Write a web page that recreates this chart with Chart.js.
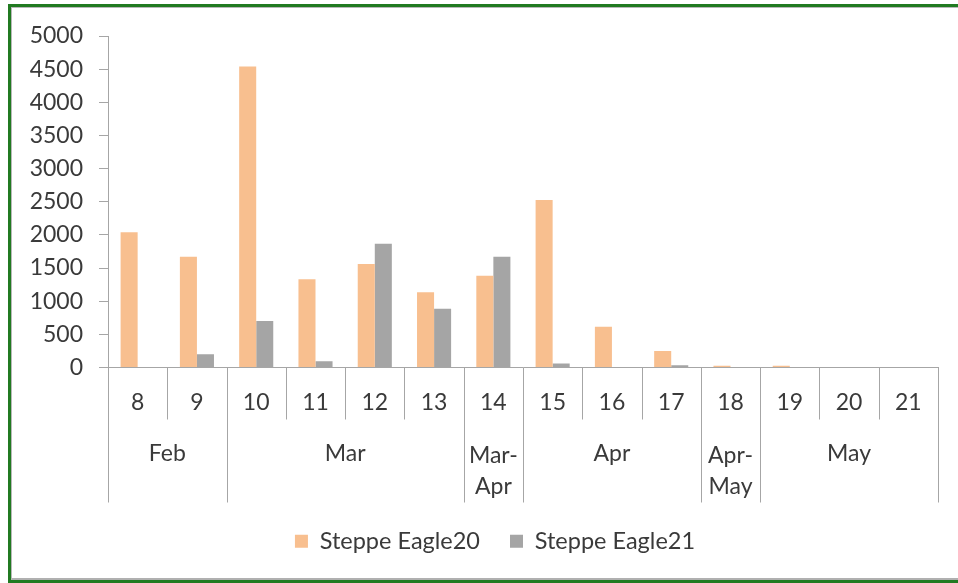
<!DOCTYPE html>
<html>
<head>
<meta charset="utf-8">
<script src="https://cdn.jsdelivr.net/npm/chart.js@4/dist/chart.umd.min.js"></script>
<style>
  body { margin: 0; background: #fff; overflow: hidden; }
  #frame {
    position: absolute; left: 8px; top: 4px; width: 970px; height: 579px;
    border: 3px solid #217a21; border-right: none; box-sizing: border-box;
    box-shadow: inset 1px 1px 0 #b8b8b8, inset 0 -2px 0 #b0b0b0;
  }
  #wrap { position: absolute; left: 0; top: 0; width: 958px; height: 583px; }
</style>
</head>
<body>
<div id="frame"></div>
<div id="wrap"><canvas id="chart" width="958" height="583"></canvas></div>
<script>
// Week numbers and the month(s) each group of weeks falls in
const weekLabels = ['8', '9', '10', '11', '12', '13', '14', '15', '16', '17', '18', '19', '20', '21'];
const monthLabels = [['Feb'], ['Mar'], ['Mar-', 'Apr'], ['Apr'], ['Apr-', 'May'], ['May']];
const monthSpans = [2, 4, 1, 3, 1, 3];

// Counts per week
const eagle20 = [2040, 1670, 4540, 1330, 1560, 1135, 1385, 2525, 615, 250, 25, 25, 0, 0];
const eagle21 = [0, 200, 700, 95, 1865, 885, 1670, 60, 0, 35, 0, 0, 0, 0];

const axisColor = '#a6a6a6';
const textColor = '#3a3a3a';
const fontFamily = 'Lato, Carlito, sans-serif';

// Draws the week separators and the month row under the x axis
const monthAxisPlugin = {
    id: 'monthAxis',
    afterLayout(chart) {
        // legend sits a bit right of centre in the original
        chart.legend.left += 21;
        chart.legend.right += 21;
    },
    afterDraw(chart) {
        const ctx = chart.ctx;
        const x = chart.scales.x;
        const area = chart.chartArea;
        const half = (x.getPixelForValue(1) - x.getPixelForValue(0)) / 2;
        const n = weekLabels.length;

        // which boundaries are month boundaries
        const monthEdges = new Set([0]);
        let acc = 0;
        monthSpans.forEach(s => { acc += s; monthEdges.add(acc); });

        ctx.save();
        ctx.strokeStyle = axisColor;
        ctx.lineWidth = 1;
        for (let i = 0; i <= n; i++) {
            const px = i < n ? x.getPixelForValue(i) - half : x.getPixelForValue(n - 1) + half;
            const bottom = area.bottom + (monthEdges.has(i) ? 135 : 52);
            const xx = Math.round(px) + 0.5;
            ctx.beginPath();
            ctx.moveTo(xx, area.bottom);
            ctx.lineTo(xx, bottom);
            ctx.stroke();
        }

        ctx.fillStyle = textColor;
        ctx.font = '23px ' + fontFamily;
        ctx.textAlign = 'center';
        ctx.textBaseline = 'middle';
        let start = 0;
        monthLabels.forEach((lines, k) => {
            const end = start + monthSpans[k] - 1;
            const cx = (x.getPixelForValue(start) + x.getPixelForValue(end)) / 2;
            if (lines.length === 1) {
                ctx.fillText(lines[0], cx, area.bottom + 86);
            } else {
                lines.forEach((t, j) => ctx.fillText(t, cx, area.bottom + 88 + j * 31));
            }
            start = end + 1;
        });
        ctx.restore();
    }
};

new Chart(document.getElementById('chart'), {
    type: 'bar',
    data: {
        labels: weekLabels,
        datasets: [
            { label: 'Steppe Eagle20', data: eagle20, backgroundColor: '#f8bf8f' },
            { label: 'Steppe Eagle21', data: eagle21, backgroundColor: '#a5a5a5' }
        ]
    },
    options: {
        responsive: false,
        animation: false,
        layout: { padding: { left: 10, right: 20, top: 36, bottom: 20 } },
        datasets: { bar: { barPercentage: 1, categoryPercentage: 0.575 } },
        plugins: {
            legend: {
                position: 'bottom',
                labels: {
                    color: textColor,
                    font: { family: fontFamily, size: 23.5 },
                    boxWidth: 13,
                    boxHeight: 13,
                    padding: 30
                }
            },
            tooltip: { enabled: false }
        },
        scales: {
            x: {
                afterFit: scale => { scale.height = 132; },
                grid: { display: false },
                border: { color: axisColor },
                ticks: { color: textColor, font: { family: fontFamily, size: 23 }, padding: 13, maxRotation: 0 }
            },
            y: {
                min: 0,
                max: 5000,
                afterFit: scale => { scale.width = 98; },
                grid: { drawOnChartArea: false, tickLength: 9, color: axisColor },
                border: { color: axisColor },
                ticks: {
                    stepSize: 500,
                    color: textColor,
                    font: { family: fontFamily, size: 23 },
                    padding: 16,
                    callback: value => String(value)
                }
            }
        }
    },
    plugins: [monthAxisPlugin]
});
</script>
</body>
</html>
